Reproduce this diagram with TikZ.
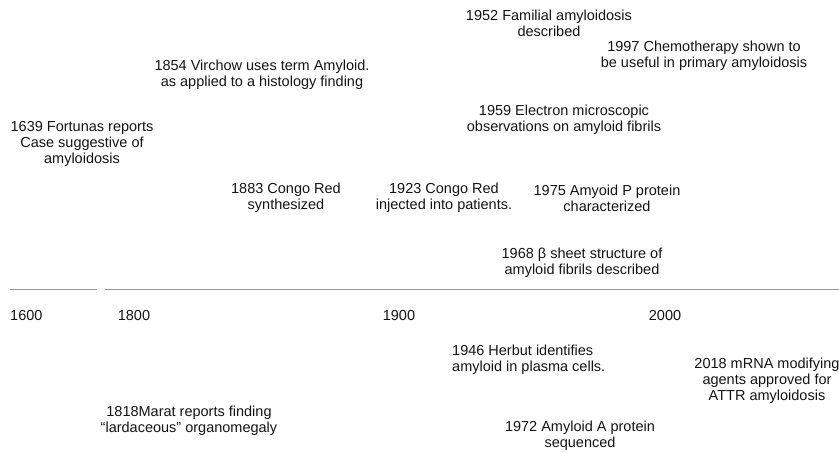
\documentclass[tikz,border=0pt]{standalone}
\usepackage{fontspec}
\setmainfont{Liberation Sans}
\usetikzlibrary{positioning}
\definecolor{axisgray}{RGB}{150,150,150}
\definecolor{inktext}{RGB}{20,20,20}

\begin{document}
\begin{tikzpicture}[x=1pt,y=-1pt,
  event/.style={align=center,inner sep=0pt,text=inktext,font=\fontsize{14.5}{16}\selectfont},
  yearlbl/.style={inner sep=0pt,text=inktext,font=\fontsize{14.5}{16}\selectfont}]
  \useasboundingbox (0,0) rectangle (839,451);
  % time axis, broken between 1600 and 1800
  \coordinate (axA) at (10,289);
  \coordinate (axB) at (97,289);
  \coordinate (axC) at (105,289);
  \coordinate (axD) at (839,289);
  \draw[axisgray,line width=0.8pt] (axA) -- (axB);
  \draw[axisgray,line width=0.8pt] (axC) -- (axD);
  % years
  \node[yearlbl,anchor=west] (y1600) at (10,316) {1600};
  \node[yearlbl] (y1800) at (134,316) {1800};
  \node[yearlbl] (y1900) at (399,316) {1900};
  \node[yearlbl] (y2000) at (665,316) {2000};
  % events above the axis
  \node[event] (e1952) at (549,23) {1952 Familial amyloidosis\\described};
  \node[event] (e1997) at (704,56) {1997 Chemotherapy shown to\\be useful in primary amyloidosis};
  \node[event] (e1854) at (262,75) {1854 Virchow uses term Amyloid.\\as applied to a histology finding};
  \node[event] (e1959) at (564,120) {1959 Electron microscopic\\observations on amyloid fibrils};
  \node[event] (e1639) at (82,144) {1639 Fortunas reports\\Case suggestive of\\amyloidosis};
  \node[event] (e1883) at (286,198) {1883 Congo Red\\synthesized};
  \node[event] (e1923) at (444,198) {1923 Congo Red\\injected into patients.};
  \node[event] (e1975) at (607,198) {1975 Amyoid P protein\\characterized};
  \node[event] (e1968) at (582,263) {1968 β sheet structure of\\amyloid fibrils described};
  % events below the axis
  \node[event,align=left,anchor=west] (e1946) at (452,360) {1946 Herbut identifies\\amyloid in plasma cells.};
  \node[event] (e2018) at (767,381) {2018 mRNA modifying\\agents approved for\\ATTR amyloidosis};
  \node[event] (e1818) at (189,421) {1818Marat reports finding\\``lardaceous'' organomegaly};
  \node[event] (e1972) at (580,436) {1972 Amyloid A protein\\sequenced};
\end{tikzpicture}
\end{document}
